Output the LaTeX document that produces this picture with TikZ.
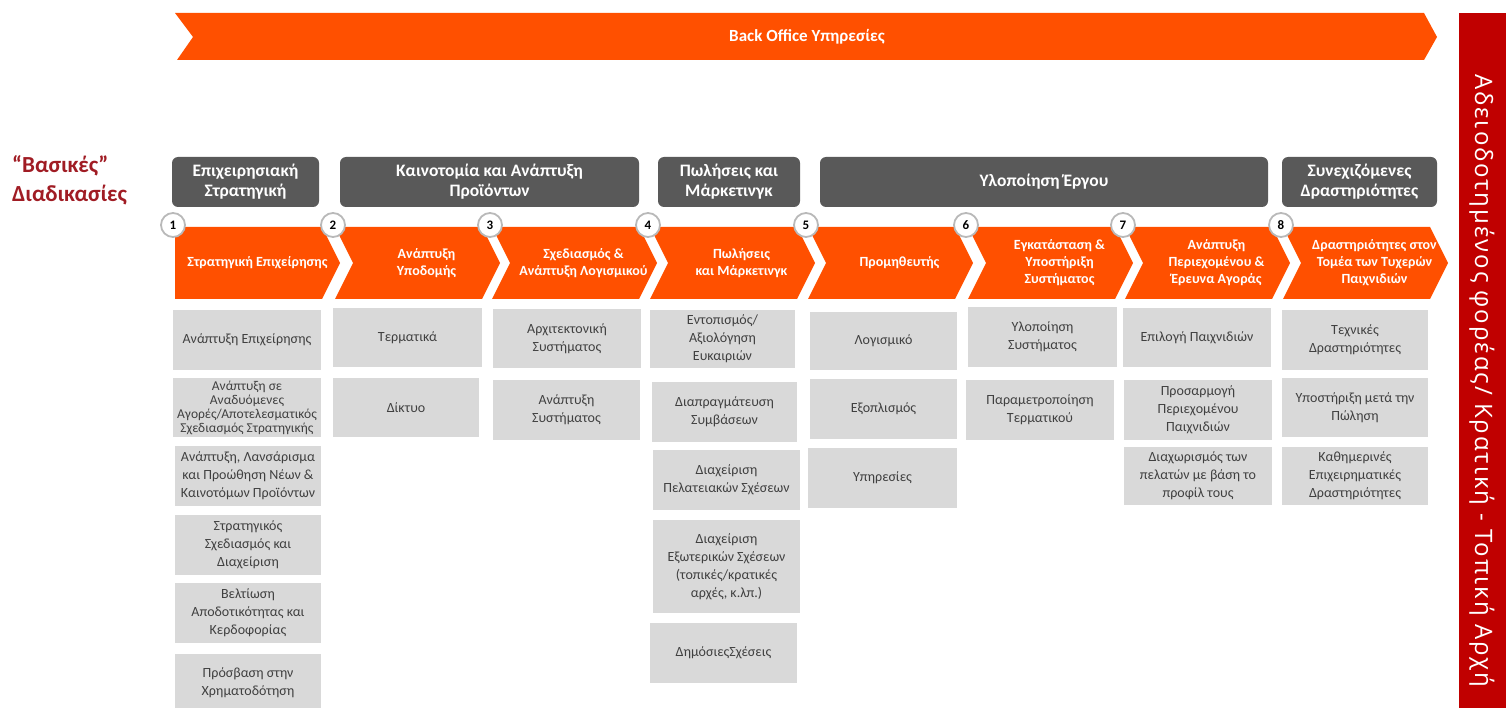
\documentclass[tikz,border=0pt]{standalone}
\usepackage{fontspec}
\setmainfont{Carlito}
\newfontfamily\barfont[LetterSpace=8]{Open Sans}
\usepackage{tikz}
\definecolor{orangeBox}{RGB}{255,80,0}
\definecolor{darkHead}{RGB}{89,89,89}
\definecolor{greyBox}{RGB}{217,217,217}
\definecolor{greyText}{RGB}{64,64,64}
\definecolor{titleRed}{RGB}{160,28,36}
\definecolor{licRed}{RGB}{192,0,0}

\begin{document}
\begin{tikzpicture}[x=1pt,y=-1pt,
  chevtext/.style={text=white,font=\bfseries\fontsize{14}{17}\selectfont,align=center,inner sep=0pt},
  hdr/.style={fill=darkHead,rounded corners=6pt,text=white,font=\bfseries\fontsize{17.5}{20}\selectfont,align=center,minimum height=50pt,inner sep=0pt},
  item/.style={fill=greyBox,text=greyText,font=\fontsize{14}{18}\selectfont,align=center,inner sep=0pt},
  numc/.style={circle,fill=white,draw=gray!55,line width=1.8pt,minimum size=24pt,inner sep=0pt,font=\bfseries\fontsize{13}{13}\selectfont}]

\useasboundingbox (0,0) rectangle (1506,708);

\def\chevW{147}
\def\chevD{18}
\def\chevTop{227}
\def\chevBot{299}
\def\chevMid{263}

% back office banner
\fill[orangeBox] (175,13) -- (1424,13) -- (1437,37) -- (1424,60) -- (177,60) -- (193,37) -- cycle;
\node[text=white,font=\bfseries\fontsize{17}{17}\selectfont] (backoffice) at (807,37) {Back Office Υπηρεσίες};

% title on the left
\node[anchor=west,align=left,text=titleRed,font=\bfseries\fontsize{23}{29}\selectfont,inner sep=0pt] (title) at (12,180) {“Βασικές”\\Διαδικασίες};

% licence bar on the right
\fill[licRed] (1459,13) rectangle (1506,708);
\node[rotate=-90,text=white,font=\barfont\fontsize{24}{24}\selectfont] (licence) at (1482,381) {Αδειοδοτημένος φορέας/ Κρατική - Τοπική Αρχή};

% draw the group headers
\foreach \xa/\xb/\t [count=\ni] in {172/319/{Επιχειρησιακή\\Στρατηγική},
  340/639/{Καινοτομία και Ανάπτυξη\\Προϊόντων},
  658/800/{Πωλήσεις και\\Μάρκετινγκ},
  820/1268/{Υλοποίηση Έργου},
  1282/1437/{Συνεχιζόμενες\\Δραστηριότητες}}
{
  \pgfmathsetmacro\w{\xb-\xa}
  \node[hdr,minimum width=\w pt] (hdr\ni) at ({(\xa+\xb)/2},182) {\t};
}

% draw the chevrons and their numbers
\foreach \l/\t [count=\ni] in {175/{Στρατηγική Επιχείρησης},
  335/{Ανάπτυξη\\Υποδομής},
  492/{Σχεδιασμός \&\\Ανάπτυξη Λογισμικού},
  650/{Πωλήσεις\\και Μάρκετινγκ},
  808/{Προμηθευτής},
  968/{Εγκατάσταση \&\\Υποστήριξη\\Συστήματος},
  1125/{Ανάπτυξη\\Περιεχομένου \&\\Έρευνα Αγοράς},
  1283/{Δραστηριότητες στον\\Τομέα των Τυχερών\\Παιχνιδιών}}
{
  \pgfmathsetmacro\r{\l+\chevW}
  \pgfmathsetmacro\notch{ifthenelse(\ni==1,0,\chevD)}
  \pgfmathsetmacro\cx{\l+(\chevW+\chevD+\notch)/2}
  \fill[orangeBox] (\l,\chevTop) -- (\r,\chevTop) -- ({\r+\chevD},\chevMid) -- (\r,\chevBot)
    -- (\l,\chevBot) -- ({\l+\notch},\chevMid) -- cycle;
  \node[chevtext] (chev\ni) at (\cx,\chevMid) {\t};
  \node[numc] (num\ni) at ({\l-2},225) {\ni};
}

% draw the activity boxes
\foreach \xa/\ya/\xb/\yb/\nm/\t in {
  173/310/321/370/c1a/{Ανάπτυξη Επιχείρησης},
  175/446/321/506/c1c/{Ανάπτυξη, Λανσάρισμα\\και Προώθηση Νέων \&\\Καινοτόμων Προϊόντων},
  175/515/321/575/c1d/{Στρατηγικός\\Σχεδιασμός και\\Διαχείριση},
  175/583/321/643/c1e/{Βελτίωση\\Αποδοτικότητας και\\Κερδοφορίας},
  175/654/321/712/c1f/{Πρόσβαση στην\\Χρηματοδότηση},
  333/308/482/367/c2a/{Τερματικά},
  333/378/479/437/c2b/{Δίκτυο},
  493/309/641/368/c3a/{Αρχιτεκτονική\\Συστήματος},
  493/380/640/440/c3b/{Ανάπτυξη\\Συστήματος},
  650/310/795/368/c4a/{Εντοπισμός/\\Αξιολόγηση\\Ευκαιριών},
  652/382/797/442/c4b/{Διαπραγμάτευση\\Συμβάσεων},
  653/450/800/510/c4c/{Διαχείριση\\Πελατειακών Σχέσεων},
  653/520/800/613/c4d/{Διαχείριση\\Εξωτερικών Σχέσεων\\(τοπικές/κρατικές\\αρχές, κ.λπ.)},
  650/623/797/683/c4e/{ΔημόσιεςΣχέσεις},
  810/312/957/370/c5a/{Λογισμικό},
  810/379/957/439/c5b/{Εξοπλισμός},
  808/448/957/508/c5c/{Υπηρεσίες},
  968/307/1117/367/c6a/{Υλοποίηση\\Συστήματος},
  966/380/1114/440/c6b/{Παραμετροποίηση\\Τερματικού},
  1123/308/1271/367/c7a/{Επιλογή Παιχνιδιών},
  1124/380/1272/440/c7b/{Προσαρμογή\\Περιεχομένου\\Παιχνιδιών},
  1124/447/1272/505/c7c/{Διαχωρισμός των\\πελατών με βάση το\\προφίλ τους},
  1282/310/1428/370/c8a/{Τεχνικές\\Δραστηριότητες},
  1282/378/1428/437/c8b/{Υποστήριξη μετά την\\Πώληση},
  1282/447/1428/505/c8c/{Καθημερινές\\Επιχειρηματικές\\Δραστηριότητες}}
{
  \pgfmathsetmacro\w{\xb-\xa}
  \pgfmathsetmacro\h{\yb-\ya}
  \node[item,minimum width=\w pt,minimum height=\h pt] (\nm) at ({(\xa+\xb)/2},{(\ya+\yb)/2}) {\t};
}
% the crowded box gets a smaller font
\node[item,minimum width=148pt,minimum height=59pt,font=\fontsize{13.5}{14}\selectfont] (c1b) at (247,407.5)
  {Ανάπτυξη σε\\Αναδυόμενες\\Αγορές/Αποτελεσματικός\\Σχεδιασμός Στρατηγικής};

\end{tikzpicture}
\end{document}
